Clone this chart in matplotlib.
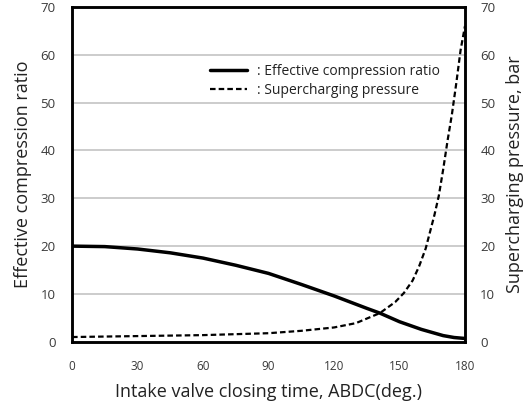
import matplotlib
matplotlib.use("Agg")
import matplotlib.pyplot as plt

# ── data ──────────────────────────────────────────────────────────────────────
ivc_ratio = [0, 15, 30, 45, 60, 75, 90, 105, 120, 135, 141, 150, 160, 170, 175, 180]
eff_ratio = [20.0, 19.9, 19.4, 18.6, 17.5, 16.0, 14.3, 12.0, 9.6, 7.0, 6.0,
             4.2, 2.6, 1.3, 0.9, 0.7]

ivc_press = [0, 30, 60, 90, 105, 120, 130, 141, 148, 152, 156, 159, 162, 164,
             166, 168, 170, 172, 174, 176, 178, 180]
sc_press = [1.0, 1.2, 1.4, 1.8, 2.3, 3.0, 3.9, 6.0, 8.3, 10.2, 12.8, 15.8,
            19.5, 23.0, 26.5, 30.5, 36.0, 42.0, 47.5, 54.0, 61.0, 66.0]

x_ticks = [0, 30, 60, 90, 120, 150, 180]
y_ticks = [0, 10, 20, 30, 40, 50, 60, 70]

plt.rcParams["font.family"] = ["Open Sans", "DejaVu Sans"]

fig = plt.figure(figsize=(5.26, 4.05), dpi=100)
ax = fig.add_axes([0.137, 0.156, 0.747, 0.827])

for yv in y_ticks[1:-1]:
    ax.axhline(yv, color="#c8c8c8", lw=1.3, zorder=1)

ax.plot(ivc_ratio, eff_ratio, color="black", lw=2.5, zorder=3,
        solid_capstyle="round", label=": Effective compression ratio")
ax.plot(ivc_press, sc_press, color="black", lw=1.6, ls=(0, (2.5, 1.4)),
        zorder=3, label=": Supercharging pressure")

ax.set_xlim(0, 180)
ax.set_ylim(0, 70)
ax.set_xticks(x_ticks)
ax.set_yticks(y_ticks)
ax.tick_params(axis="x", length=0, pad=13, labelsize=8.5, colors="#3a3a3a")
ax.tick_params(axis="y", length=0, pad=12, labelsize=9.5, colors="#3a3a3a")

for sp in ax.spines.values():
    sp.set_linewidth(1.8)

ax2 = ax.twinx()
ax2.set_ylim(0, 70)
ax2.set_yticks(y_ticks)
ax2.tick_params(axis="y", length=0, pad=11, labelsize=9.5, colors="#3a3a3a")
for sp in ax2.spines.values():
    sp.set_linewidth(1.8)

ax.set_xlabel("Intake valve closing time, ABDC(deg.)", fontsize=13,
              color="#222222", labelpad=7)
ax.set_ylabel("Effective compression ratio", fontsize=13,
              color="#222222", labelpad=6)
ax2.set_ylabel("Supercharging pressure, bar", fontsize=13,
               color="#222222", labelpad=8)

leg = ax.legend(loc="upper left", bbox_to_anchor=(0.351, 0.83), frameon=False,
                fontsize=10, handlelength=2.7, handletextpad=0.7,
                labelspacing=0.3, borderpad=0, borderaxespad=0)
for t in leg.get_texts():
    t.set_color("#222222")

fig.savefig("out.png", dpi=100)
